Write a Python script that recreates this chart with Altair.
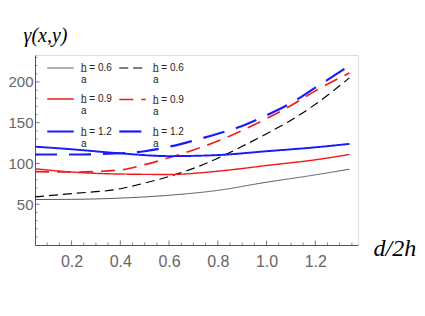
import altair as alt
import pandas as pd

# ---- data ----
LABELS = ["h\u0332 = 0.6|a", "h\u0332 = 0.6|a ", "h\u0332 = 0.9|a", "h\u0332 = 0.9|a ",
          "h\u0332 = 1.2|a", "h\u0332 = 1.2|a "]

X_S06 = [0.05, 0.2, 0.4, 0.6, 0.8, 1.0, 1.2, 1.34]
Y_S06 = [55.8, 56.0, 57.5, 61.0, 67.0, 77.0, 86.0, 93.0]

X_D06 = [0.05, 0.2, 0.4, 0.5, 0.6, 0.7, 0.8, 0.9, 1.0, 1.1, 1.2, 1.34]
Y_D06 = [59.0, 63.0, 69.0, 76.0, 84.0, 94.0, 106.5, 121.0, 136.5, 153.0, 172.5, 205.0]

X_S09 = [0.05, 0.2, 0.4, 0.6, 0.8, 1.0, 1.2, 1.34]
Y_S09 = [93.5, 89.5, 87.0, 86.5, 90.5, 97.5, 104.5, 111.0]

X_D09 = [0.05, 0.2, 0.4, 0.5, 0.6, 0.7, 0.8, 0.9, 1.0, 1.1, 1.2, 1.34]
Y_D09 = [90.0, 89.5, 92.0, 98.5, 107.0, 116.5, 127.5, 140.5, 155.0, 171.0, 189.0, 211.0]

X_S12 = [0.05, 0.2, 0.4, 0.6, 0.8, 1.0, 1.2, 1.34]
Y_S12 = [120.6, 117.4, 112.4, 109.0, 110.3, 115.0, 119.8, 124.0]

X_D12 = [0.05, 0.2, 0.4, 0.5, 0.6, 0.7, 0.8, 0.9, 1.0, 1.1, 1.2, 1.34]
Y_D12 = [111.0, 111.0, 112.5, 115.0, 120.5, 128.0, 136.5, 146.0, 159.0, 174.0, 193.0, 220.0]

X_TICKS = [0.2, 0.4, 0.6, 0.8, 1.0, 1.2]
X_MINOR = [0.1, 0.15, 0.25, 0.3, 0.35, 0.45, 0.5, 0.55, 0.65, 0.7, 0.75, 0.85, 0.9,
           0.95, 1.05, 1.1, 1.15, 1.25, 1.3, 1.35]
Y_TICKS = [50, 100, 150, 200]
Y_MINOR = [10, 20, 30, 40, 60, 70, 80, 90, 110, 120, 130, 140, 160, 170, 180, 190,
           210, 220, 230]

COLORS = ["#444444", "#000000", "#ee1c1c", "#ee1c1c", "#1a1aff", "#1a1aff"]
DASHES = [[1, 0], [9, 5], [1, 0], [14, 8], [1, 0], [22, 12]]
WIDTHS = [0.9, 2.2, 1.3, 2.2, 2.6, 2.0]

series = [(X_S06, Y_S06), (X_D06, Y_D06), (X_S09, Y_S09),
          (X_D09, Y_D09), (X_S12, Y_S12), (X_D12, Y_D12)]
rows = []
for lab, (xv_list, yv_list) in zip(LABELS, series):
    for xv, yv in zip(xv_list, yv_list):
        rows.append({"x": xv, "y": yv, "s": lab})
df = pd.DataFrame(rows)

W, H = 323, 190
xs = alt.Scale(domain=[0.05, 1.375], nice=False, zero=False)
ys = alt.Scale(domain=[0, 233], nice=False, zero=False)

lines = alt.Chart(df).mark_line(interpolate="monotone", clip=True).encode(
    x=alt.X("x:Q", scale=xs,
            axis=alt.Axis(values=X_TICKS, format=".1f", ticks=False, grid=False,
                          labelFontSize=16, labelColor="#666666", labelFont="Liberation Sans",
                          labelPadding=8, domainColor="#555555",
                          title="d/2h", titleFont="Liberation Serif", titleFontStyle="italic",
                          titleFontWeight="normal", titleFontSize=24, titleColor="#000000",
                          titleX=338, titleY=10, titleAlign="left", titleBaseline="alphabetic")),
    y=alt.Y("y:Q", scale=ys,
            axis=alt.Axis(values=Y_TICKS, ticks=False, grid=False,
                          labelFontSize=15, labelColor="#666666", labelFont="Liberation Sans",
                          labelPadding=2, domainColor="#555555",
                          title="γ(x,y)", titleAngle=0, titleFont="Liberation Serif",
                          titleFontStyle="italic", titleFontWeight="normal", titleFontSize=20,
                          titleColor="#000000", titleX=10, titleY=-14, titleAlign="center",
                          titleBaseline="alphabetic")),
    color=alt.Color("s:N", scale=alt.Scale(domain=LABELS, range=COLORS),
                    legend=alt.Legend(orient="none", legendX=11, legendY=-1, columns=2,
                                      direction="horizontal",
                                      title=None, symbolType="stroke", symbolSize=700,
                                      labelFontSize=10, labelFont="Liberation Sans",
                                      labelColor="#222222", labelOffset=6,
                                      labelExpr="split(datum.label, '|')",
                                      columnPadding=2, rowPadding=-3)),
    strokeDash=alt.StrokeDash("s:N", scale=alt.Scale(domain=LABELS, range=DASHES)),
    strokeWidth=alt.StrokeWidth("s:N", scale=alt.Scale(domain=LABELS, range=WIDTHS)),
)

xt = pd.DataFrame({"v": X_TICKS})
xm = pd.DataFrame({"v": X_MINOR})
yt = pd.DataFrame({"v": Y_TICKS})
ym = pd.DataFrame({"v": Y_MINOR})

tick_color = "#555555"
xtick = alt.Chart(xt).mark_rule(color=tick_color, strokeWidth=0.8).encode(
    x=alt.X("v:Q", scale=xs), y=alt.value(H), y2=alt.value(H - 4.5))
xmin = alt.Chart(xm).mark_rule(color=tick_color, strokeWidth=0.7).encode(
    x=alt.X("v:Q", scale=xs), y=alt.value(H), y2=alt.value(H - 2.5))
ytick = alt.Chart(yt).mark_rule(color=tick_color, strokeWidth=0.8).encode(
    y=alt.Y("v:Q", scale=ys), x=alt.value(0), x2=alt.value(4.5))
ymin = alt.Chart(ym).mark_rule(color=tick_color, strokeWidth=0.7).encode(
    y=alt.Y("v:Q", scale=ys), x=alt.value(0), x2=alt.value(2.5))

chart = alt.layer(lines, xtick, xmin, ytick, ymin).properties(
    width=W, height=H,
    autosize=alt.AutoSizeParams(type="none"),
    padding={"left": 27, "top": 47, "right": 59, "bottom": 55},
).configure_view(stroke=None).configure(background="white")

chart.save("out.html", embed_options={"renderer": "svg", "actions": False})
